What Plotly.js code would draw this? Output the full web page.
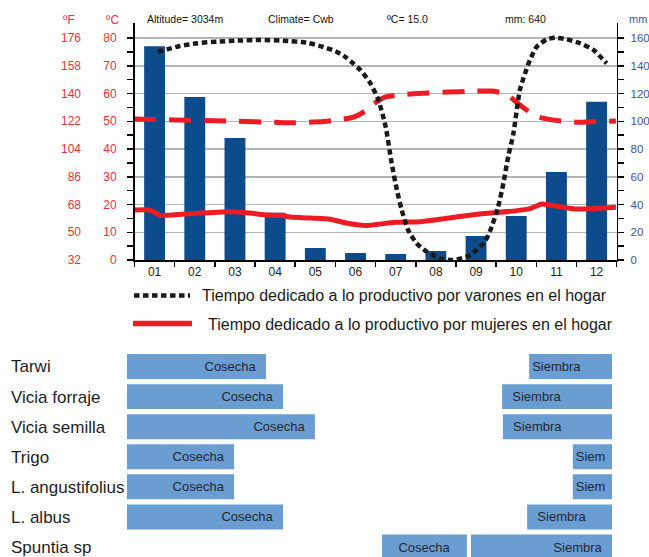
<!DOCTYPE html>
<html>
<head>
<meta charset="utf-8">
<script src="https://cdn.plot.ly/plotly-3.0.1.min.js"></script>
<style>
  html, body { margin: 0; padding: 0; background: #fff; }
  #chart { width: 649px; height: 557px; }
</style>
</head>
<body>
<div id="chart"></div>
<script>
// ---- Climate diagram data ----
const months = ['01','02','03','04','05','06','07','08','09','10','11','12'];
const monthPos = [1,2,3,4,5,6,7,8,9,10,11,12];
const precipMm = [154, 117.5, 88, 34, 8.6, 5, 4.3, 6.5, 17.3, 31.7, 63.4, 114];

// Monthly temperature curve (ºC), positions in months
const tempX = [0.49, 0.89, 1.13, 1.51, 2.01, 2.88, 3.37, 3.80, 4.12, 4.37, 4.87, 5.37, 5.74, 6.24, 6.98, 7.61, 8.11, 8.97, 9.97, 10.34, 10.64, 11.09, 11.46, 11.99, 12.48];
const tempC = [18.0, 18.0, 16.1, 16.3, 16.8, 17.4, 16.9, 16.2, 16.1, 15.5, 15.1, 14.7, 13.4, 12.4, 13.6, 13.8, 14.7, 16.4, 17.7, 18.5, 20.2, 19.2, 18.4, 18.6, 19.0];

// Time devoted to productive work (drawn on the mm scale)
const varonesX = [1.08, 1.31, 1.63, 2.06, 2.55, 3.13, 3.63, 4.2, 4.79, 5.2, 5.5, 5.74, 5.94, 6.12, 6.37, 6.57, 6.75, 6.9, 7.03, 7.15, 7.31, 7.52, 7.77, 8.1, 8.43, 8.77, 9.02, 9.22, 9.39, 9.55, 9.68, 9.8, 9.93, 10.09, 10.22, 10.34, 10.51, 10.76, 10.97, 11.26, 11.59, 11.92, 12.25];
const varonesY = [150.1, 151.8, 154.2, 156.2, 157.4, 158.2, 158.6, 158.1, 156.6, 153.5, 150.5, 146.5, 141.7, 137, 127.4, 115.3, 96.1, 69.7, 50.5, 36, 21.6, 12, 6, 1.2, 0, 2.4, 7.2, 13.2, 24, 38.4, 55.3, 74.5, 91.3, 122.5, 134.5, 144.1, 153.7, 159, 160.2, 159, 156.2, 151.4, 141.7];

const mujeresX = [0.49, 1.0, 1.51, 2.5, 3.0, 4.0, 4.5, 5.2, 5.6, 5.95, 6.25, 6.45, 6.75, 7.2, 7.7, 8.3, 8.9, 9.4, 9.75, 10.1, 10.5, 10.9, 11.5, 12.0, 12.48];
const mujeresY = [101.6, 101.3, 100.9, 100.4, 100.1, 99.2, 98.9, 99.8, 101.2, 103.0, 107.5, 112.5, 117.5, 119.3, 120.2, 121.0, 121.6, 121.8, 119.5, 111.5, 103.5, 101.0, 99.3, 99.7, 100.2];

const tempTicksC = [0,10,20,30,40,50,60,70,80];
const tempTicksF = [32,50,68,86,104,122,140,158,176];
const mmTicks = [0,20,40,60,80,100,120,140,160];

// ---- Crop calendar (months from start of year) ----
const crops = ['Tarwi','Vicia forraje','Vicia semilla','Trigo','L. angustifolius','L. albus','Spuntia sp'];
const cosechaStart = [0, 0, 0, 0, 0, 0, 6.31];
const cosechaEnd   = [3.44, 3.86, 4.65, 2.65, 2.65, 3.86, 8.41];
const siembraStart = [9.95, 9.28, 9.3, 11.03, 11.03, 9.9, 8.51];
const siembraEnd   = [12, 12, 12, 12, 12, 12, 12];
const cosechaLabel = ['Cosecha\u00a0\u00a0','Cosecha\u00a0\u00a0','Cosecha\u00a0\u00a0','Cosecha\u00a0\u00a0','Cosecha\u00a0\u00a0','Cosecha\u00a0\u00a0','Cosecha'];
const siembraLabel = ['Siembra','\u00a0\u00a0Siembra','\u00a0\u00a0Siembra','Siem','Siem','\u00a0\u00a0Siembra','Siembra\u00a0\u00a0'];

// ---- geometry helpers (figure pixels -> paper fractions) ----
const W = 649, H = 557;
const fx = p => p / W;
const fy = p => 1 - p / H;

const FONT = 'Liberation Sans, Arial, Helvetica, sans-serif';
const RED_TXT = '#e8323c';
const RED_LINE = '#ed1c24';
const BLUE_BAR = '#0d4c8c';
const BLUE_TXT = '#3f52a2';
const GANTT = '#6a9ed3';

// plot area: top 23px, bottom 260px; 80ºC / 160mm sit at 38px
const pxPerUnitC = (260 - 38) / 80;
const cMax = (260 - 23) / pxPerUnitC;
const mmMax = cMax * 2;
const fMax = 32 + 1.8 * cMax;

const oddFives = [5,15,25,35,45,55,65,75];
const oddTens = [10,30,50,70,90,110,130,150];
const bounds = [0.5,1.5,2.5,3.5,4.5,5.5,6.5,7.5,8.5,9.5,10.5,11.5,12.5];

const traces = [
  {
    type: 'bar', x: monthPos, y: precipMm, xaxis: 'x', yaxis: 'y',
    marker: { color: BLUE_BAR }, width: 0.52, hoverinfo: 'skip', showlegend: false
  },
  {
    type: 'scatter', mode: 'lines', x: mujeresX, y: mujeresY, xaxis: 'x', yaxis: 'y4',
    line: { color: RED_LINE, width: 5, dash: '22px,13px', shape: 'spline', smoothing: 0.6 },
    hoverinfo: 'skip', showlegend: false
  },
  {
    type: 'scatter', mode: 'lines', x: tempX, y: tempC, xaxis: 'x', yaxis: 'y2',
    line: { color: RED_LINE, width: 5, shape: 'spline', smoothing: 0.5 },
    hoverinfo: 'skip', showlegend: false
  },
  {
    // same temperatures on the ºF scale; carries the ºF axis, draws nothing
    type: 'scatter', mode: 'none', x: tempX, y: tempC.map(c => 32 + 1.8 * c), xaxis: 'x', yaxis: 'y3',
    hoverinfo: 'skip', showlegend: false
  },
  {
    type: 'scatter', mode: 'lines', x: varonesX, y: varonesY, xaxis: 'x', yaxis: 'y4',
    line: { color: '#1a1a1a', width: 4.5, dash: '5.5px,3.5px', shape: 'spline', smoothing: 0.6 },
    hoverinfo: 'skip', showlegend: false
  }
];

// crop calendar bars
function ganttTrace(idx, starts, ends, labels, anchor) {
  return {
    type: 'bar', orientation: 'h', xaxis: 'x2', yaxis: 'y5',
    y: idx.map(i => crops[i]),
    base: idx.map(i => starts[i]),
    x: idx.map(i => ends[i] - starts[i]),
    text: idx.map(i => labels[i]),
    textposition: 'inside', insidetextanchor: anchor, constraintext: 'none',
    textfont: { family: FONT, size: 13, color: '#26262e' },
    marker: { color: GANTT }, width: 0.83, hoverinfo: 'skip', showlegend: false
  };
}
traces.push(ganttTrace([0,1,2,3,4,5], cosechaStart, cosechaEnd, cosechaLabel, 'end'));
traces.push(ganttTrace([6], cosechaStart, cosechaEnd, cosechaLabel, 'middle'));
traces.push(ganttTrace([0,1,2,3,4,5], siembraStart, siembraEnd, siembraLabel, 'start'));
traces.push(ganttTrace([6], siembraStart, siembraEnd, siembraLabel, 'end'));

const headerFont = { family: FONT, size: 10.5, color: '#111' };
const annotations = [
  { text: 'Altitude= 3034m', x: fx(145), y: fy(18.5), xanchor: 'left' , font: headerFont },
  { text: 'Climate= Cwb', x: fx(266), y: fy(18.5), xanchor: 'left', font: headerFont },
  { text: 'ºC= 15.0', x: fx(385), y: fy(18.5), xanchor: 'left', font: headerFont },
  { text: 'mm: 640', x: fx(503), y: fy(18.5), xanchor: 'left', font: headerFont },
  { text: 'ºF', x: fx(69), y: fy(19.5), xanchor: 'center', font: { family: FONT, size: 12, color: RED_TXT } },
  { text: 'ºC', x: fx(112), y: fy(19.5), xanchor: 'center', font: { family: FONT, size: 12, color: RED_TXT } },
  { text: 'mm', x: fx(638), y: fy(18.5), xanchor: 'center', font: { family: FONT, size: 11, color: BLUE_TXT } },
  { text: 'Tiempo dedicado a lo productivo por varones en el hogar', x: fx(200), y: fy(295.5), xanchor: 'left',
    font: { family: FONT, size: 16, color: '#1a1a1a' } },
  { text: 'Tiempo dedicado a lo productivo por mujeres en el hogar', x: fx(206), y: fy(324), xanchor: 'left',
    font: { family: FONT, size: 16, color: '#1a1a1a' } }
].map(a => Object.assign({ xref: 'paper', yref: 'paper', yanchor: 'middle', showarrow: false }, a));

const shapes = [
  { type: 'line', xref: 'paper', yref: 'paper', x0: fx(134), x1: fx(190), y0: fy(295.5), y1: fy(295.5),
    line: { color: '#1a1a1a', width: 4.5, dash: '5.5px,3.5px' } },
  { type: 'line', xref: 'paper', yref: 'paper', x0: fx(133), x1: fx(192), y0: fy(323.5), y1: fy(323.5),
    line: { color: RED_LINE, width: 5.5 } }
];

const plotDomainY = [fy(260), fy(23)];

const layout = {
  width: W, height: H,
  margin: { l: 0, r: 0, t: 0, b: 0, pad: 0 },
  paper_bgcolor: '#fff', plot_bgcolor: 'rgba(0,0,0,0)',
  font: { family: FONT },
  barmode: 'overlay',
  showlegend: false,
  xaxis: {
    domain: [fx(134.5), fx(616.7)], anchor: 'y', range: [0.5, 12.5],
    tickvals: monthPos, ticktext: months, ticks: '',
    tickfont: { family: FONT, size: 12, color: '#222' },
    showline: true, linecolor: '#000', linewidth: 1.5,
    showgrid: false, zeroline: false,
    minor: { tickvals: bounds, ticks: 'outside', ticklen: 5, tickwidth: 1.5, tickcolor: '#000', showgrid: false }
  },
  yaxis: {
    domain: plotDomainY, anchor: 'x', side: 'right', range: [0, mmMax],
    tickvals: mmTicks, ticks: 'outside', ticklen: 6, tickwidth: 1.5, tickcolor: '#000',
    tickfont: { family: FONT, size: 11.5, color: BLUE_TXT }, ticklabelstandoff: 4,
    showline: true, linecolor: '#000', linewidth: 1.5,
    showgrid: true, gridcolor: '#b4b4b4', gridwidth: 1.5, zeroline: false,
    minor: { tickvals: oddTens, ticks: 'outside', ticklen: 6, tickwidth: 1.5, tickcolor: '#000', showgrid: false }
  },
  yaxis2: {
    overlaying: 'y', anchor: 'x', side: 'left', range: [0, cMax],
    tickvals: tempTicksC, ticks: 'outside', ticklen: 6, tickwidth: 1.5, tickcolor: '#000',
    tickfont: { family: FONT, size: 12, color: RED_TXT }, ticklabelstandoff: 8,
    showline: true, linecolor: '#000', linewidth: 1.5,
    showgrid: false, zeroline: false,
    minor: { tickvals: oddFives, ticks: 'outside', ticklen: 6, tickwidth: 1.5, tickcolor: '#000', showgrid: false }
  },
  yaxis3: {
    overlaying: 'y', anchor: 'free', position: fx(81), side: 'left', range: [32, fMax],
    tickvals: tempTicksF, ticks: '', showline: false, showgrid: false, zeroline: false,
    tickfont: { family: FONT, size: 12, color: RED_TXT }
  },
  yaxis4: {
    overlaying: 'y', anchor: 'x', range: [0, mmMax], visible: false
  },
  xaxis2: {
    domain: [fx(127), fx(612)], anchor: 'y5', range: [0, 12], visible: false
  },
  yaxis5: {
    domain: [0, fy(351.5)], anchor: 'free', position: fx(7), side: 'left',
    type: 'category', categoryorder: 'array', categoryarray: crops,
    range: [6 + 10 / 30.08, -0.5],
    ticklabelposition: 'inside', ticks: '', showline: false, showgrid: false, zeroline: false,
    tickfont: { family: FONT, size: 17, color: '#1e1e1e' }
  },
  annotations: annotations,
  shapes: shapes
};

Plotly.newPlot('chart', traces, layout, { staticPlot: true, displayModeBar: false });
</script>
</body>
</html>
